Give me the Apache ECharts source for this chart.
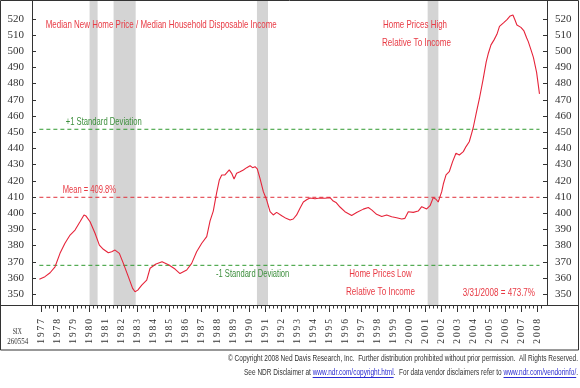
<!DOCTYPE html>
<html><head><meta charset="utf-8">
<script src="https://cdn.jsdelivr.net/npm/echarts@6.0.0/dist/echarts.min.js"></script>
<style>html,body{margin:0;padding:0;background:#fff}#c{width:580px;height:388px}</style>
</head><body><div id="c"></div>
<script>
// ---- data (year fraction, ratio %) ----
const dates = [1976.86,1977.21,1977.53,1977.84,1978.15,1978.46,1978.78,1979.09,1979.40,1979.65,1979.78,1980.03,1980.34,1980.61,1980.86,1981.17,1981.38,1981.59,1981.86,1982.11,1982.42,1982.69,1982.84,1983.01,1983.26,1983.57,1983.78,1984.15,1984.53,1984.96,1985.34,1985.65,1986.07,1986.38,1986.69,1987.01,1987.32,1987.53,1987.73,1987.94,1988.11,1988.26,1988.46,1988.73,1988.88,1989.03,1989.19,1989.40,1989.61,1989.82,1990.03,1990.19,1990.34,1990.48,1990.65,1990.86,1991.07,1991.28,1991.48,1991.69,1992.01,1992.28,1992.53,1992.73,1992.94,1993.15,1993.36,1993.59,1993.78,1994.09,1994.40,1994.71,1995.03,1995.23,1995.40,1995.65,1995.96,1996.38,1996.69,1997.11,1997.42,1997.63,1997.94,1998.26,1998.57,1998.88,1999.19,1999.51,1999.71,1999.92,2000.23,2000.54,2000.76,2001.07,2001.28,2001.48,2001.65,2001.79,2002.01,2002.11,2002.28,2002.48,2002.69,2002.90,2003.11,2003.36,2003.53,2003.73,2003.88,2003.98,2004.19,2004.36,2004.59,2004.79,2004.93,2005.09,2005.28,2005.46,2005.62,2005.87,2006.09,2006.29,2006.46,2006.59,2006.71,2006.96,2007.15,2007.32,2007.42,2007.59,2007.74,2007.94,2008.12];
const ratio = [359.2,360.8,363.2,366.9,375.2,381.4,386.5,389.6,394.7,398.9,398.2,394.7,387.6,380.3,377.7,375.6,376.2,377.2,375.2,369.0,360.8,353.6,351.5,352.5,355.6,358.7,366.0,368.6,370.0,368.0,365.5,362.7,364.9,369.0,376.2,381.4,385.5,395.2,401.3,412.5,420.5,423.6,423.6,426.7,424.6,421.1,424.6,425.6,426.7,428.1,429.3,428.1,428.7,427.3,421.5,413.3,408.1,400.9,398.9,400.5,398.4,396.8,395.8,396.4,398.9,403.0,406.9,408.4,409.4,408.9,409.4,409.2,409.6,407.5,406.6,403.8,400.9,398.6,400.4,402.5,403.5,402.0,399.3,397.9,398.9,397.8,397.2,396.4,396.8,400.9,400.5,401.3,404.0,402.6,404.6,409.6,408.6,406.9,413.3,418.0,423.6,425.6,431.8,437.0,435.9,438.0,441.1,444.1,449.3,452.9,462.8,470.5,482.3,493.4,498.9,503.9,507.0,510.4,515.3,517.5,519.5,521.8,522.4,519.3,516.2,514.7,512.5,508.2,505.9,500.8,496.2,486.9,473.7];
const yTickLabels = [350,360,370,380,390,400,410,420,430,440,450,460,470,480,490,500,510,520];
const yearLabels = [1977,1978,1979,1980,1981,1982,1983,1984,1985,1986,1987,1988,1989,1990,1991,1992,1993,1994,1995,1996,1997,1998,1999,2000,2001,2002,2003,2004,2005,2006,2007,2008];
const MEAN = 409.8, SD_UP = 451.8, SD_DN = 367.8;
const recessions = [[1980.0,1980.5],[1981.5,1982.88],[1990.46,1991.15],[2001.13,2001.8]];

// ---- styling ----
const RED_LINE = '#e6243a', RED_TXT = '#e83a44', RED_DASH = '#e0303a';
const GREEN_DASH = '#2f9a2f', GREEN_TXT = '#3d8f3d';
const NARROW = '"Liberation Sans Narrow", "Liberation Sans", Arial, sans-serif';
const SERIF = '"Liberation Serif", "Times New Roman", serif';

const quarterTicks = [];
for (let y = 1977; y <= 2008.25 + 1e-9; y += 0.25) quarterTicks.push(+y.toFixed(2));

const cv = document.createElement('canvas').getContext('2d');
function measure(str, font){ cv.font = font; return cv.measureText(str).width; }
function fitText(str, left, cy, width, size, fill, family){
  const font = size + 'px ' + (family || NARROW);
  const w = measure(str, font);
  return {type:'text', x:left, y:cy, scaleX: width / w, silent:true, z:100,
    style:{text:str, font:font, fill:fill, align:'left', verticalAlign:'middle', textAlign:'left', textVerticalAlign:'middle'}};
}
function richLine(segs, right, cy, width, size){
  const font = size + 'px ' + NARROW;
  const ws = segs.map(s => measure(s.t, font));
  const total = ws.reduce((a,b)=>a+b,0);
  const s = width / total;
  let x = right - width;
  const out = [];
  segs.forEach((sg,i)=>{
    const w = ws[i]*s;
    out.push({type:'text', x:x, y:cy, scaleX:s, silent:true, z:100,
      style:{text:sg.t, font:font, fill:sg.c, align:'left', verticalAlign:'middle', textAlign:'left', textVerticalAlign:'middle'}});
    if (sg.u) out.push({type:'line', silent:true, z:100, shape:{x1:x, y1:cy+4.5, x2:x+w, y2:cy+4.5}, style:{stroke:sg.c, lineWidth:1}});
    x += w;
  });
  return out;
}

const chart = echarts.init(document.getElementById('c'), null, {renderer:'canvas'});
const tStart = dates[0], tEnd = dates[dates.length-1];
const BLUE = '#2a2ad0', DARK = '#333';

const graphics = [
  {type:'rect', silent:true, z:90, shape:{x:0.5, y:0.5, width:578, height:349.5}, style:{fill:'none', stroke:DARK, lineWidth:1}},
  {type:'line', silent:true, z:90, shape:{x1:0.5, y1:305.5, x2:578.5, y2:305.5}, style:{stroke:DARK, lineWidth:1}},
  fitText('Median New Home Price / Median Household Disposable Income', 45.7, 25, 231, 10.5, RED_TXT),
  fitText('Home Prices High', 383, 25, 64, 10.5, RED_TXT),
  fitText('Relative To Income', 382, 43, 69, 10.5, RED_TXT),
  fitText('+1 Standard Deviation', 65.7, 122.5, 76, 10.5, GREEN_TXT),
  fitText('Mean = 409.8%', 62.7, 190, 53.3, 10.5, RED_TXT),
  fitText('-1 Standard Deviation', 216, 274.3, 73.3, 10.5, GREEN_TXT),
  fitText('Home Prices Low', 349.3, 274.3, 62.4, 10.5, RED_TXT),
  fitText('Relative To Income', 346, 291.7, 69, 10.5, RED_TXT),
  fitText('3/31/2008 = 473.7%', 462.7, 293.5, 72.3, 10.5, RED_TXT),
  fitText('SIX', 12.7, 331.5, 9, 8, DARK, SERIF),
  fitText('260554', 7.3, 342, 21, 8, DARK, SERIF),
  fitText('\u00A9 Copyright 2008 Ned Davis Research, Inc.  Further distribution prohibited without prior permission.  All Rights Reserved.', 228, 359, 350, 9, DARK)
].concat(richLine([
  {t:'See NDR Disclaimer at ', c:DARK},
  {t:'www.ndr.com/copyright.html', c:BLUE, u:true},
  {t:'.  For data vendor disclaimers refer to ', c:DARK},
  {t:'www.ndr.com/vendorinfo/', c:BLUE, u:true},
  {t:'.', c:DARK}
], 578, 373, 334, 9));

const yAxisCommon = {
  type:'value', min:343.3, max:531.0, splitLine:{show:false},
  axisLine:{show:true, lineStyle:{color:DARK, width:1}},
  axisTick:{show:true, inside:true, length:4, customValues:yTickLabels, lineStyle:{color:DARK}},
  axisLabel:{show:true, customValues:yTickLabels, fontFamily:SERIF, fontSize:11, color:'#333', margin:8}
};

function levelSeries(level, color){
  return {type:'line', xAxisIndex:0, yAxisIndex:0, showSymbol:false, symbol:'none', silent:true, z:4,
    data:[[tStart, level],[tEnd, level]],
    lineStyle:{color:color, type:[4,3], width:1}};
}

const option = {
  animation:false,
  backgroundColor:'#fff',
  grid:{left:32, right:33, top:1, bottom:83, containLabel:false},
  xAxis:[
    {type:'value', min:1976.4, max:2008.59, position:'bottom', splitLine:{show:false},
     axisLine:{show:false},
     axisTick:{show:true, inside:false, length:7, customValues:yearLabels, lineStyle:{color:DARK}},
     axisLabel:{show:true, customValues:yearLabels, rotate:90, margin:14, fontFamily:SERIF, fontSize:9.5, color:'#333',
       formatter:v => String(Math.round(v)).split('').join('\u2009')}},
    {type:'value', min:1976.4, max:2008.59, position:'bottom', splitLine:{show:false},
     axisLine:{show:false},
     axisTick:{show:true, inside:false, length:3.5, customValues:quarterTicks, lineStyle:{color:DARK}},
     axisLabel:{show:false}}
  ],
  yAxis:[
    Object.assign({position:'left'}, yAxisCommon),
    Object.assign({position:'right'}, yAxisCommon)
  ],
  series:[
    {
      type:'line', xAxisIndex:0, yAxisIndex:0, showSymbol:false, symbol:'none',
      data: dates.map((d,i)=>[d, ratio[i]]),
      lineStyle:{color:RED_LINE, width:1.1}, z:5,
      markArea:{silent:true, itemStyle:{color:'#d4d4d4'},
        data: recessions.map(r => [{xAxis:r[0]}, {xAxis:r[1]}])}
    },
    levelSeries(SD_UP, GREEN_DASH),
    levelSeries(MEAN, RED_DASH),
    levelSeries(SD_DN, GREEN_DASH)
  ],
  graphic: graphics
};
chart.setOption(option);
</script>
</body></html>
